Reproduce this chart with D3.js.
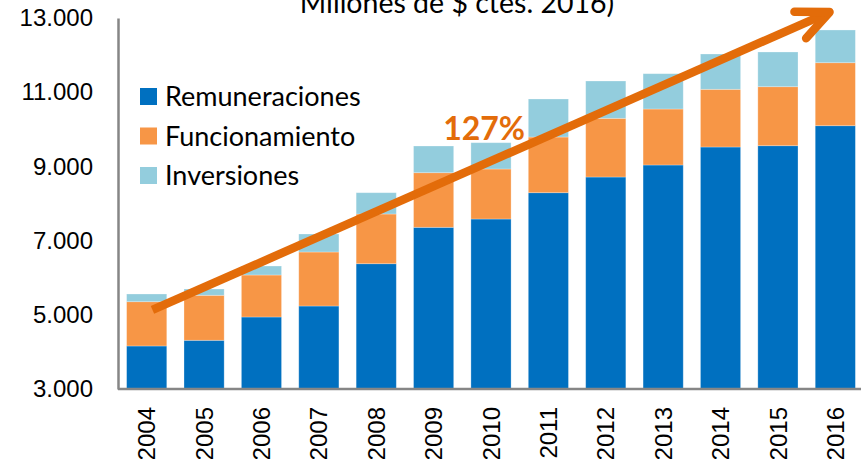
<!DOCTYPE html>
<html>
<head>
<meta charset="utf-8">
<script src="https://cdn.jsdelivr.net/npm/d3@7"></script>
<style>
    body { margin: 0; background: #fff; }
    svg { display: block; }
    .axis text { font-family: "Liberation Sans", Arial, sans-serif; font-size: 24px; fill: #000; }
    .axis .domain { stroke: #868686; stroke-width: 2.5; }
    .legend text { font-family: Lato, "Open Sans", sans-serif; font-size: 27px; fill: #000; }
    .title { font-family: Lato, "Open Sans", sans-serif; font-size: 28.5px; fill: #000; }
    .growth { font-family: Lato, "Open Sans", sans-serif; font-size: 32px; font-weight: bold; fill: #E36C0A; }
</style>
</head>
<body>
<svg id="chart" width="861" height="459"></svg>
<script>
// valores (millones de $ ctes. 2016)
var years = ["2004", "2005", "2006", "2007", "2008", "2009", "2010", "2011", "2012", "2013", "2014", "2015", "2016"];
var remuneraciones = [4160, 4313, 4941, 5237, 6377, 7358, 7582, 8291, 8714, 9038, 9523, 9558, 10097];
var funcionamiento = [1193, 1213, 1132, 1456, 1340, 1472, 1348, 1501, 1582, 1509, 1555, 1590, 1698];
var inversiones = [208, 169, 242, 485, 574, 720, 709, 1025, 1006, 952, 952, 936, 882];

var seriesNames = ["Remuneraciones", "Funcionamiento", "Inversiones"];
var seriesColors = ["#0070C0", "#F79646", "#93CDDD"];
var yTicks = [3000, 5000, 7000, 9000, 11000, 13000];

var titleText = "Millones de $ ctes. 2016)";
var growthText = "127%";
// flecha de tendencia, en posición de año (índice) y valor
var arrowFrom = [0.1, 5130];
var arrowTo = [11.9, 13160];
var growthAt = [5.88, 9712];

var svg = d3.select("#chart")
    , margin = {top: 18, right: -3, bottom: 70, left: 118}
    , width = +svg.attr("width") - margin.left - margin.right
    , height = +svg.attr("height") - margin.top - margin.bottom
    ;

var table = years.map(function(yr, i) {
    return {year: yr, rem: remuneraciones[i], func: funcionamiento[i], inv: inversiones[i]};
});

var keys = ["rem", "func", "inv"];
var stacked = d3.stack().keys(keys)(table);

var x = d3.scaleBand()
    .domain(years)
    .range([margin.left, margin.left + width])
    .paddingInner(0.3)
    .paddingOuter(0.15);

var y = d3.scaleLinear()
    .domain([3000, 13000])
    .range([margin.top + height, margin.top]);

var yMin = y.domain()[0];

// posición continua por índice de año, para la flecha
var xi = function(i) {
    return x(years[0]) + x.bandwidth() / 2 + i * x.step();
};

var locale = d3.formatLocale({decimal: ",", thousands: ".", grouping: [3], currency: ["$", ""]});

// barras apiladas (el eje empieza en 3.000, se corta la base)
svg.append("g")
    .attr("class", "bars")
    .selectAll("g")
    .data(stacked)
    .join("g")
    .attr("fill", function(d, i) { return seriesColors[i]; })
    .selectAll("rect")
    .data(function(d) { return d; })
    .join("rect")
    .attr("x", function(d) { return x(d.data.year); })
    .attr("y", function(d) { return y(d[1]); })
    .attr("width", x.bandwidth())
    .attr("height", function(d) { return y(Math.max(d[0], yMin)) - y(d[1]); })
    .attr("stroke", "rgba(255,255,255,0.35)")
    .attr("stroke-width", 0.8);

// ejes
var yAxis = svg.append("g")
    .attr("class", "axis axis--y")
    .attr("transform", "translate(" + margin.left + ",0)")
    .call(d3.axisLeft(y)
        .tickValues(yTicks)
        .tickSize(0)
        .tickPadding(25)
        .tickFormat(locale.format(",d")));

var xAxis = svg.append("g")
    .attr("class", "axis axis--x")
    .attr("transform", "translate(0," + (margin.top + height) + ")")
    .call(d3.axisBottom(x).tickSize(0));

xAxis.select(".domain").attr("d", "M" + margin.left + ",0H" + 861);

xAxis.selectAll("text")
    .attr("transform", "rotate(-90)")
    .attr("x", -18)
    .attr("y", 0)
    .attr("dy", "0.36em")
    .style("text-anchor", "end");

// flecha
svg.append("defs")
    .append("marker")
    .attr("id", "arrowhead")
    .attr("markerUnits", "userSpaceOnUse")
    .attr("orient", "auto")
    .attr("markerWidth", 10)
    .attr("markerHeight", 10)
    .attr("overflow", "visible")
    .append("path")
    .attr("d", "M-32,-14.5L0,0L-32,14.5")
    .attr("fill", "none")
    .attr("stroke", "#E36C0A")
    .attr("stroke-width", 8.5)
    .attr("stroke-linecap", "round")
    .attr("stroke-linejoin", "round");

svg.append("line")
    .attr("class", "trend")
    .attr("x1", xi(arrowFrom[0]))
    .attr("y1", y(arrowFrom[1]))
    .attr("x2", xi(arrowTo[0]))
    .attr("y2", y(arrowTo[1]))
    .attr("stroke", "#E36C0A")
    .attr("stroke-width", 8.5)
    .attr("marker-end", "url(#arrowhead)");

svg.append("text")
    .attr("class", "growth")
    .attr("x", xi(growthAt[0]))
    .attr("y", y(growthAt[1]))
    .attr("text-anchor", "middle")
    .text(growthText);

// título (cortado arriba, como en el original)
svg.append("text")
    .attr("class", "title")
    .attr("x", 457)
    .attr("y", 13)
    .attr("text-anchor", "middle")
    .text(titleText);

// leyenda
var legend = svg.append("g")
    .attr("class", "legend")
    .attr("transform", "translate(140,88)");

var item = legend.selectAll("g")
    .data(seriesNames)
    .join("g")
    .attr("transform", function(d, i) { return "translate(0," + (i * 39.5) + ")"; });

item.append("rect")
    .attr("width", 17)
    .attr("height", 17)
    .attr("fill", function(d, i) { return seriesColors[i]; });

item.append("text")
    .attr("x", 25)
    .attr("y", 8.5)
    .attr("dy", "0.36em")
    .text(function(d) { return d; });
</script>
</body>
</html>
